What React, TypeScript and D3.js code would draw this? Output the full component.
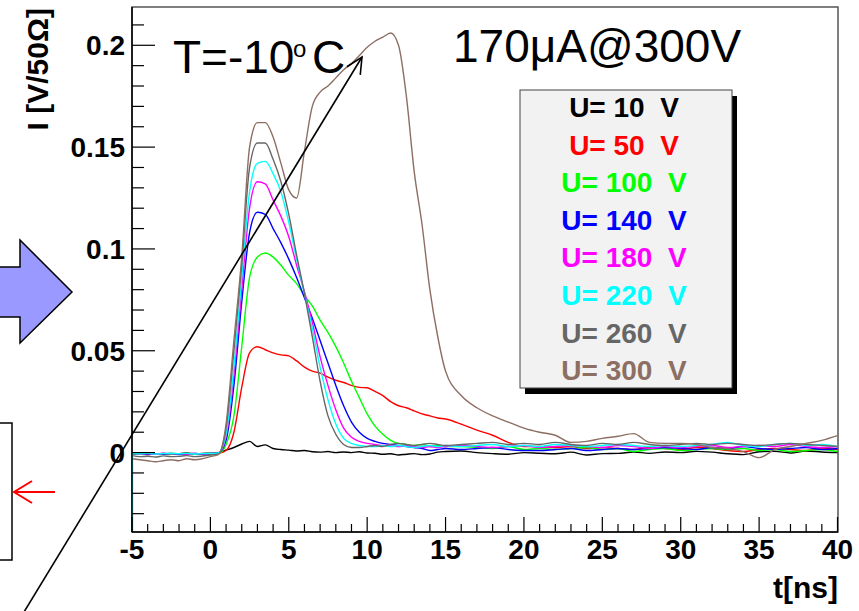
import React from 'react';
import * as d3 from 'd3';

const TIME = [-5,-4.5,-4,-3.5,-3,-2.5,-2,-1.5,-1,-0.5,0,0.5,1,1.5,2,2.5,3,3.5,4,4.5,5,5.5,6,6.5,7,7.5,8,8.5,9,9.5,10,10.5,11,11.5,12,12.5,13,13.5,14,14.5,15,16,17,18,19,20,21,22,23,24,25,26,27,28,29,30,31,32,33,34,35,36,37,38,39,40];

const U10 = [-0.0005,-0.0008,-0.0003,-0.0006,-0.0004,-0.0009,-0.0005,-0.0002,-0.0006,-0.0004,-0.0003,0.0,
  0.0012,0.0025,0.0042,0.0055,0.003,0.0038,0.002,0.0015,0.0012,0.0008,0.001,0.0004,0.0002,0.0005,0.0,0.0003,0.0,0.0004,-0.0002,-0.0003,-0.0008,-0.0006,-0.0012,-0.0008,-0.0005,-0.001,-0.0007,0.0002,0.0005,
  0.0008,0.0,-0.0005,-0.0008,0.0,-0.0003,-0.0006,0.0002,-0.0012,-0.0005,-0.0004,0.0003,-0.0004,0.0003,0.0,0.0006,0.0002,-0.0006,-0.001,0.0004,0.0006,-0.0002,0.0008,0.0003,0.0];
const U50 = [-0.0008,-0.0005,-0.001,-0.0006,-0.0009,-0.0004,-0.0007,-0.001,-0.0005,-0.0008,-0.0006,-0.0004,
  0.001,0.01,0.032,0.049,0.052,0.0505,0.049,0.048,0.0475,0.045,0.042,0.04,0.039,0.037,0.0355,0.0344,0.033,0.032,0.0318,0.03,0.028,0.025,0.023,0.022,0.0205,0.019,0.018,0.017,0.0165,
  0.014,0.011,0.0085,0.005,0.003,0.003,0.0025,0.003,0.002,0.0025,0.002,0.0015,0.0025,0.002,0.0015,0.0025,0.002,0.001,0.0005,0.0015,0.002,0.0015,0.001,0.002,0.0015];
const U100 = [-0.0005,-0.0008,-0.0004,-0.0007,-0.0005,-0.0009,-0.0006,-0.0004,-0.0008,-0.0005,-0.0007,-0.0005,
  0.004,0.018,0.052,0.086,0.096,0.098,0.096,0.092,0.087,0.083,0.077,0.072,0.065,0.059,0.052,0.044,0.035,0.027,0.019,0.013,0.009,0.006,0.0045,0.004,0.0035,0.004,0.003,0.0035,0.003,
  0.003,0.0025,0.002,0.003,0.0015,0.002,0.0015,0.002,0.0025,0.0015,0.002,0.0005,0.0015,0.002,0.001,0.0015,0.002,0.0015,0.002,0.001,0.0015,0.0005,0.001,0.0015,0.0005];
const U140 = [-0.0006,-0.0004,-0.0008,-0.0005,-0.0007,-0.0004,-0.0009,-0.0006,-0.0004,-0.0007,-0.0005,-0.0003,
  0.006,0.033,0.074,0.108,0.118,0.117,0.11,0.103,0.095,0.086,0.076,0.066,0.055,0.044,0.033,0.023,0.015,0.01,0.007,0.0055,0.0045,0.004,0.0035,0.003,0.0025,0.002,0.001,0.0015,0.002,
  0.0015,0.002,0.0025,0.0015,0.001,0.001,0.0015,0.002,0.001,0.0015,0.002,0.0015,0.002,0.0025,0.002,0.0015,0.0025,0.002,0.003,0.002,0.0015,0.002,0.0025,0.0015,0.002];
const U180 = [-0.0004,-0.0007,-0.0005,-0.0008,-0.0003,-0.0006,-0.0005,-0.0008,-0.0004,-0.0006,-0.0005,-0.0003,
  0.008,0.038,0.08,0.12,0.133,0.132,0.124,0.116,0.106,0.092,0.079,0.064,0.047,0.033,0.021,0.012,0.0075,0.0055,0.0045,0.004,0.0035,0.0035,0.003,0.0035,0.003,0.0025,0.003,0.0025,0.003,
  0.0035,0.003,0.0025,0.003,0.0035,0.0025,0.003,0.0035,0.003,0.0025,0.0035,0.003,0.002,0.003,0.0025,0.003,0.0035,0.0025,0.003,0.0035,0.003,0.004,0.003,0.0025,0.003];
const U220 = [-0.0003,-0.0006,-0.0004,-0.0007,-0.0005,-0.0003,-0.0006,-0.0004,-0.0007,-0.0005,-0.0004,-0.0002,
  0.009,0.042,0.086,0.128,0.142,0.143,0.137,0.128,0.113,0.095,0.078,0.061,0.042,0.026,0.014,0.007,0.0045,0.0035,0.003,0.003,0.0035,0.003,0.0035,0.003,0.0025,0.003,0.0035,0.003,0.0035,
  0.003,0.0035,0.004,0.003,0.0035,0.003,0.004,0.0035,0.003,0.0035,0.004,0.0035,0.003,0.0035,0.003,0.0035,0.004,0.005,0.0035,0.003,0.004,0.0045,0.0035,0.004,0.003];
const U260 = [-0.0015,-0.002,-0.0018,-0.0022,-0.0016,-0.002,-0.0018,-0.0015,-0.002,-0.0017,-0.0012,-0.0008,
  0.012,0.05,0.092,0.14,0.152,0.152,0.144,0.133,0.117,0.097,0.078,0.057,0.035,0.018,0.009,0.004,0.0025,0.0025,0.003,0.0035,0.003,0.004,0.0045,0.004,0.0035,0.004,0.0045,0.004,0.0035,
  0.004,0.0045,0.005,0.004,0.0045,0.004,0.005,0.004,0.0035,0.0045,0.004,0.005,0.004,0.0035,0.004,0.0045,0.004,0.0045,0.004,0.0035,0.004,0.0045,0.004,0.0035,0.003];
const U300 = [-0.003,-0.0035,-0.004,-0.0045,-0.004,-0.0035,-0.004,-0.003,-0.0035,-0.003,-0.002,-0.001,
  0.014,0.055,0.096,0.15,0.162,0.162,0.155,0.142,0.129,0.125,0.148,0.17,0.177,0.18,0.184,0.188,0.191,0.195,0.199,0.202,0.204,0.206,0.2,0.175,0.138,0.112,0.08,0.057,0.04,
  0.028,0.022,0.018,0.015,0.012,0.01,0.0085,0.005,0.0055,0.007,0.008,0.0093,0.005,0.0045,0.0045,0.004,0.0025,0.002,0.0005,-0.0025,0.0015,0.003,0.0045,0.006,0.0083];

const SERIES = [U10, U50, U100, U140, U180, U220, U260, U300];
const SERIES_LABELS = ['U= 10  V', 'U= 50  V', 'U= 100  V', 'U= 140  V', 'U= 180  V', 'U= 220  V', 'U= 260  V', 'U= 300  V'];
const SERIES_COLORS = ['#000000', '#ff0000', '#00ff00', '#0000ff', '#ff00ff', '#00ffff', '#666666', '#8d6e63'];

const X_TICKS = [-5, 0, 5, 10, 15, 20, 25, 30, 35, 40];
const X_TICK_LABELS = ['-5', '0', '5', '10', '15', '20', '25', '30', '35', '40'];
const Y_TICKS = [0, 0.05, 0.1, 0.15, 0.2];
const Y_TICK_LABELS = ['0', '0.05', '0.1', '0.15', '0.2'];

const FONT = "'Liberation Sans', Arial, Helvetica, sans-serif";

export default function App() {
  const W = 859, H = 611;
  const L = 132, R = 838, T = 7, B = 532;
  const x = d3.scaleLinear().domain([-5, 40]).range([L, 837.5]);
  const y = d3.scaleLinear().domain([-0.039, 0.2188]).range([B, T]);

  const xMinor = d3.range(-5, 40.01, 1).filter(v => !X_TICKS.includes(v));
  const yMinor = d3.range(-3, 22, 1).map(v => v / 100).filter(v => !Y_TICKS.some(t => Math.abs(t - v) < 1e-9) && v >= -0.039 && v <= 0.2188);

  const makeLine = (vals: number[]) => {
    const n = Math.min(vals.length, TIME.length);
    const pts: [number, number][] = [];
    for (let i = 0; i < n; i++) pts.push([x(TIME[i]), y(vals[i])]);
    return d3.line().curve(d3.curveMonotoneX)(pts) || '';
  };

  // big black annotation arrow
  const a0 = [24, 612], a1 = [362, 57];
  const ang = Math.atan2(a1[1] - a0[1], a1[0] - a0[0]);
  const hl = 18, ha = 0.45;
  const h1 = [a1[0] - hl * Math.cos(ang - ha), a1[1] - hl * Math.sin(ang - ha)];
  const h2 = [a1[0] - hl * Math.cos(ang + ha), a1[1] - hl * Math.sin(ang + ha)];

  const legX = 520, legY = 90, legW = 212, legH = 298;
  const legCx = 624, legBase0 = 117, legStep = 37.6;

  return (
    <svg width={W} height={H} viewBox={`0 0 ${W} ${H}`} style={{ position: 'absolute', left: 0, top: 0, background: '#fff', display: 'block' }}>
      <defs>
        <clipPath id="plotclip">
          <rect x={L} y={T} width={R - L} height={B - T} />
        </clipPath>
      </defs>
      <rect x={0} y={0} width={W} height={H} fill="#fff" />

      {/* left side decorations */}
      <polygon points="-2,267 20,267 20,240 72,292 20,343 20,317 -2,317" fill="#9999ff" stroke="#000" strokeWidth={1.5} />
      <rect x={-5} y={423} width={17} height={137} fill="none" stroke="#000" strokeWidth={1.5} />
      <g stroke="#ff0000" strokeWidth={2} fill="none">
        <line x1={55} y1={492} x2={14} y2={492} />
        <polyline points="32,481 14,492 32,503" />
      </g>

      {/* frame */}
      <rect x={L} y={T} width={R - L} height={B - T} fill="none" stroke="#555" strokeWidth={1.5} />

      {/* series */}
      <g clipPath="url(#plotclip)" fill="none" strokeWidth={1.4}>
        {SERIES.map((s, i) => (
          <path key={i} d={makeLine(s)} stroke={SERIES_COLORS[i]} />
        ))}
        <line x1={x(-5) + 0.5} x2={x(-5) + 0.5} y1={y(U220[0])} y2={y(-0.039)} stroke="#00ffff" strokeWidth={1.5} />
      </g>

      {/* axes */}
      <line x1={L} y1={T} x2={L} y2={B} stroke="#000" strokeWidth={1.5} />
      <line x1={L} y1={B} x2={R} y2={B} stroke="#000" strokeWidth={1.5} />
      <g stroke="#000" strokeWidth={1.2}>
        {X_TICKS.map(t => <line key={'xm' + t} x1={x(t)} x2={x(t)} y1={B} y2={B - 15} />)}
        {xMinor.map(t => <line key={'xn' + t} x1={x(t)} x2={x(t)} y1={B} y2={B - 8} />)}
        {Y_TICKS.map(t => <line key={'ym' + t} x1={L} x2={L + 23} y1={y(t)} y2={y(t)} />)}
        {yMinor.map(t => <line key={'yn' + t} x1={L} x2={L + 12} y1={y(t)} y2={y(t)} />)}
      </g>
      <g fontFamily={FONT} fontWeight="bold" fontSize={28} fill="#000">
        {X_TICKS.map((t, i) => (
          <text key={'xl' + t} x={x(t)} y={559} textAnchor="middle">{X_TICK_LABELS[i]}</text>
        ))}
        {Y_TICKS.map((t, i) => (
          <text key={'yl' + t} x={125} y={y(t) + 10} textAnchor="end">{Y_TICK_LABELS[i]}</text>
        ))}
        <text x={838} y={598} textAnchor="end" fontSize={30}>t[ns]</text>
        <text transform="translate(48,8) rotate(-90)" textAnchor="end" fontSize={30}>I [V/50Ω]</text>
      </g>

      {/* annotations */}
      <g fontFamily={FONT} fill="#000">
        <text x={173} y={73} fontSize={46}>T=-10</text>
        <text x={293} y={57} fontSize={24}>o</text>
        <text x={312} y={73} fontSize={46}>C</text>
        <text x={453} y={62} fontSize={46}>170μA@300V</text>
      </g>

      {/* legend */}
      <rect x={legX + 5} y={legY + 6} width={legW} height={legH} fill="#000" />
      <rect x={legX} y={legY} width={legW} height={legH} fill="#f2f2f2" stroke="#444" strokeWidth={1} />
      <g fontFamily={FONT} fontWeight="bold" fontSize={28} textAnchor="middle">
        {SERIES_LABELS.map((lab, i) => (
          <text key={lab} x={legCx} y={legBase0 + i * legStep} fill={SERIES_COLORS[i]} style={{ whiteSpace: 'pre' }}>{lab}</text>
        ))}
      </g>

      {/* black diagonal arrow */}
      <g stroke="#000" strokeWidth={1.6} fill="none">
        <line x1={a0[0]} y1={a0[1]} x2={a1[0]} y2={a1[1]} />
        <polyline points={`${h1[0]},${h1[1]} ${a1[0]},${a1[1]} ${h2[0]},${h2[1]}`} />
      </g>
    </svg>
  );
}
